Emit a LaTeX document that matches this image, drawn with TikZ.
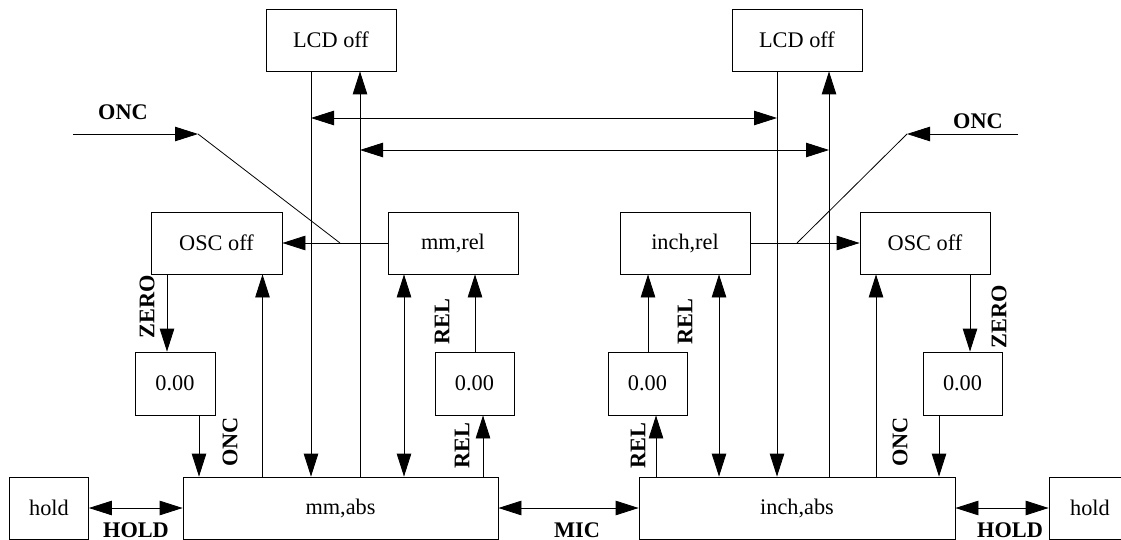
\documentclass[tikz,border=0pt]{standalone}
\usepackage{fontspec}
\setmainfont{Liberation Serif}
\usetikzlibrary{arrows.meta}
\begin{document}
\begin{tikzpicture}[x=1pt,y=-1pt,
  box/.style={draw, line width=0.8pt, inner sep=0pt, minimum height=62pt, font=\fontsize{22.3}{25}\selectfont},
  lbl/.style={font=\fontsize{22.3}{25}\selectfont\bfseries, inner sep=0pt},
  conn/.style={line width=0.8pt},
  arr/.style={conn, -{Triangle[length=23pt,width=14.5pt]}},
  darr/.style={conn, {Triangle[length=23pt,width=14.5pt]}-{Triangle[length=23pt,width=14.5pt]}}]
\useasboundingbox (0,0) rectangle (1121,540);
% boxes
\node[box, minimum width=130pt] (lcd1) at (331,40) {LCD off};
\node[box, minimum width=130pt] (lcd2) at (797,40) {LCD off};
\node[box, minimum width=131pt] (osc1) at (216.5,243) {OSC off};
\node[box, minimum width=130pt] (mmrel) at (453,243) {mm,rel};
\node[box, minimum width=130pt] (inchrel) at (685,243) {inch,rel};
\node[box, minimum width=130pt] (osc2) at (925,243) {OSC off};
\node[box, minimum width=80pt, minimum height=63pt] (z1) at (175,383.5) {0.00};
\node[box, minimum width=79pt, minimum height=63pt] (z2) at (474.5,383.5) {0.00};
\node[box, minimum width=79pt, minimum height=63pt] (z3) at (647.5,383.5) {0.00};
\node[box, minimum width=79pt, minimum height=63pt] (z4) at (962.5,383.5) {0.00};
\node[box, minimum width=79pt] (hold1) at (49,508) {hold};
\node[box, minimum width=315pt] (mmabs) at (340.5,508) {mm,abs};
\node[box, minimum width=316pt] (inchabs) at (797,508) {inch,abs};
\node[box, minimum width=82pt] (hold2) at (1090,508) {hold};
% column coordinates
\coordinate (c1) at (167,0);
\coordinate (c2) at (199,0);
\coordinate (c3) at (262.5,0);
\coordinate (c4) at (311,0);
\coordinate (c5) at (360,0);
\coordinate (c6) at (404,0);
\coordinate (c7) at (475,0);
\coordinate (c8) at (483,0);
\coordinate (c9) at (648,0);
\coordinate (c10) at (656,0);
\coordinate (c11) at (719,0);
\coordinate (c12) at (777,0);
\coordinate (c13) at (829,0);
\coordinate (c14) at (876,0);
\coordinate (c15) at (970,0);
\coordinate (c16) at (939,0);
% vertical connectors
\draw[arr] (osc1.south -| c1) -- (z1.north -| c1);
\draw[arr] (z1.south -| c2) -- (mmabs.north -| c2);
\draw[arr] (mmabs.north -| c3) -- (osc1.south -| c3);
\draw[arr] (lcd1.south -| c4) -- (mmabs.north -| c4);
\draw[arr] (mmabs.north -| c5) -- (lcd1.south -| c5);
\draw[darr] (mmrel.south -| c6) -- (mmabs.north -| c6);
\draw[arr] (z2.north -| c7) -- (mmrel.south -| c7);
\draw[arr] (mmabs.north -| c8) -- (z2.south -| c8);
\draw[arr] (z3.north -| c9) -- (inchrel.south -| c9);
\draw[arr] (inchabs.north -| c10) -- (z3.south -| c10);
\draw[darr] (inchrel.south -| c11) -- (inchabs.north -| c11);
\draw[arr] (lcd2.south -| c12) -- (inchabs.north -| c12);
\draw[arr] (inchabs.north -| c13) -- (lcd2.south -| c13);
\draw[arr] (inchabs.north -| c14) -- (osc2.south -| c14);
\draw[arr] (osc2.south -| c15) -- (z4.north -| c15);
\draw[arr] (z4.south -| c16) -- (inchabs.north -| c16);
% horizontal cross links between the LCD columns
\coordinate (h1a) at (311,118);
\coordinate (h1b) at (777,118);
\coordinate (h2a) at (360,150);
\coordinate (h2b) at (829,150);
\draw[darr] (h1a) -- (h1b);
\draw[darr] (h2a) -- (h2b);
% rel -> osc
\draw[arr] (mmrel.west) -- (osc1.east);
\draw[arr] (inchrel.east) -- (osc2.west);
% ONC inputs
\coordinate (j1) at (340,243);
\coordinate (j2) at (797,243);
\coordinate (onc1s) at (73,134);
\coordinate (onc1t) at (198,134);
\coordinate (onc2s) at (1018,134);
\coordinate (onc2t) at (907,134);
\draw[arr] (onc1s) -- (onc1t);
\draw[conn] (onc1t) -- (j1);
\draw[arr] (onc2s) -- (onc2t);
\draw[conn] (onc2t) -- (j2);
% bottom links
\draw[darr] (hold1.east) -- (mmabs.west);
\draw[darr] (mmabs.east) -- (inchabs.west);
\draw[darr] (inchabs.east) -- (hold2.west);
% labels
\node[lbl] (lonc1) at (123,112) {ONC};
\node[lbl] (lonc2) at (978,121) {ONC};
\node[lbl, rotate=90] (lzero1) at (147,307) {ZERO};
\node[lbl, rotate=90] (lonc3) at (230,442) {ONC};
\node[lbl, rotate=90] (lrel1) at (442,322) {REL};
\node[lbl, rotate=90] (lrel2) at (462,446) {REL};
\node[lbl, rotate=90] (lrel3) at (685,322) {REL};
\node[lbl, rotate=90] (lrel4) at (638,446) {REL};
\node[lbl, rotate=90] (lonc4) at (900,442) {ONC};
\node[lbl, rotate=90] (lzero2) at (999,317) {ZERO};
\node[lbl] (lhold1) at (136,530) {HOLD};
\node[lbl] (lmic) at (577,530) {MIC};
\node[lbl] (lhold2) at (1010,530) {HOLD};
\end{tikzpicture}
\end{document}
